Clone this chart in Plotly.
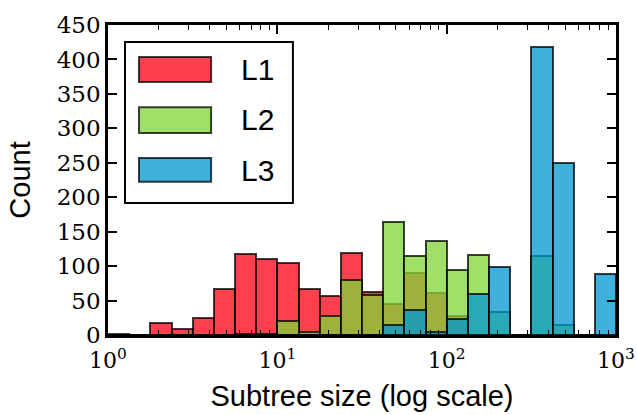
import plotly.graph_objects as go
import math

# Bin left edges, as exponents of 10 (bins are 1/8 decade wide)
bin_left_exp = [0.000, 0.125, 0.250, 0.375, 0.500, 0.625, 0.750, 0.875,
                1.000, 1.125, 1.250, 1.375, 1.500, 1.625, 1.750, 1.875,
                2.000, 2.125, 2.250, 2.375, 2.500, 2.625, 2.750, 2.875]
bin_width_exp = 0.125

L1 = [2, 0, 17, 9, 24, 67, 118, 111, 105, 67, 57, 119, 63, 45, 90, 61,
      28, 0, 0, 0, 0, 0, 0, 0]
L2 = [0, 0, 0, 0, 0, 0, 2, 1, 21, 5, 27, 80, 58, 164, 114, 136,
      95, 116, 34, 0, 114, 15, 0, 0]
L3 = [0, 0, 0, 0, 0, 0, 0, 0, 0, 0, 0, 0, 0, 15, 36, 5,
      23, 60, 98, 0, 418, 250, 0, 88]

series = [("L1", L1, "rgba(255,0,20,0.75)", "rgb(254,63,79)"),
          ("L2", L2, "rgba(128,214,54,0.75)", "rgb(160,224,104)"),
          ("L3", L3, "rgba(0,151,208,0.75)", "rgb(63,177,220)")]

major_exp = [0, 1, 2, 3]
major_text = ["10<sup>0</sup>", "10<sup>1</sup>", "10<sup>2</sup>", "10<sup>3</sup>"]
minor_mult = [2, 3, 4, 5, 6, 7, 8, 9]

minor_vals = [d + math.log10(m) for d in range(3) for m in minor_mult]
centers = [e + bin_width_exp / 2 for e in bin_left_exp]

fig = go.Figure()
for name, vals, col, _ in series:
    fig.add_trace(go.Bar(
        x=centers, y=vals, width=bin_width_exp, name=name,
        marker=dict(color=col, line=dict(color="rgba(0,0,0,0.75)", width=2)),
        showlegend=False,
    ))

# custom legend (large patches like the original)
shapes = [dict(type="rect", xref="paper", yref="paper",
               x0=0.0335, x1=0.364, y0=0.426, y1=0.945,
               line=dict(color="black", width=2), fillcolor="white", layer="above")]
annotations = []
patch_y = [(0.816, 0.897, 0.856), (0.652, 0.735, 0.694), (0.494, 0.571, 0.532)]
for (name, _, _, solid), (y0, y1, yc) in zip(series, patch_y):
    shapes.append(dict(type="rect", xref="paper", yref="paper",
                       x0=0.061, x1=0.203, y0=y0, y1=y1, fillcolor=solid,
                       line=dict(color="rgba(0,0,0,0.75)", width=2), layer="above"))
    annotations.append(dict(xref="paper", yref="paper", x=0.258, y=yc,
                            text=name, showarrow=False, xanchor="left",
                            yanchor="middle",
                            font=dict(family="Liberation Sans", size=30, color="black")))

fig.update_layout(
    width=637, height=415,
    margin=dict(l=108, r=21, t=25, b=80, autoexpand=False),
    plot_bgcolor="white", paper_bgcolor="white",
    barmode="overlay", bargap=0,
    shapes=shapes, annotations=annotations,
)
fig.update_xaxes(
    range=[0, 3], tickmode="array", tickvals=major_exp, ticktext=major_text,
    ticks="inside", ticklen=9, tickwidth=1.5, tickcolor="black",
    showline=True, linewidth=2.5, linecolor="black", mirror="allticks",
    showgrid=False, zeroline=False, automargin=False, ticklabelstandoff=4,
    tickfont=dict(family="DejaVu Serif", size=22, color="black"),
    minor=dict(tickmode="array", tickvals=minor_vals, ticks="inside",
               ticklen=5, tickwidth=1.2, tickcolor="black", showgrid=False),
    title=dict(text="Subtree size (log scale)", standoff=14,
               font=dict(family="Liberation Sans", size=29, color="black")),
)
fig.update_yaxes(
    range=[0, 450], tickmode="linear", tick0=0, dtick=50,
    ticks="inside", ticklen=9, tickwidth=1.5, tickcolor="black",
    showline=True, linewidth=2.5, linecolor="black", mirror="allticks",
    showgrid=False, zeroline=False, automargin=False,
    tickfont=dict(family="DejaVu Serif", size=23, color="black"),
    title=dict(text="Count", standoff=18,
               font=dict(family="Liberation Sans", size=29, color="black")),
)

fig.write_html("out.html",
               config={"displayModeBar": False},
               post_script="document.body.style.margin='0px';"
                           "document.body.style.overflow='hidden';")
